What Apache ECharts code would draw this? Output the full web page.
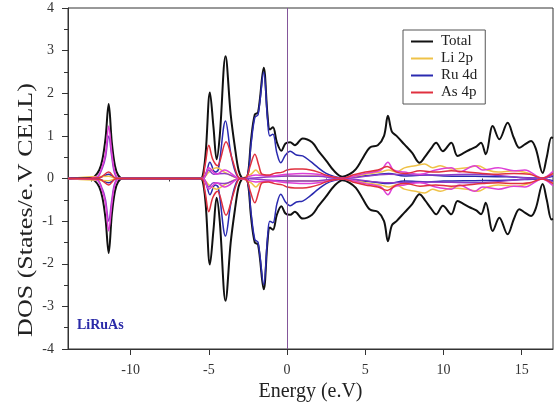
<!DOCTYPE html>
<html>
<head>
<meta charset="utf-8">
<script src="https://cdn.jsdelivr.net/npm/echarts@6/dist/echarts.min.js"></script>
<style>
  html, body { margin: 0; padding: 0; background: #fff; }
  #chart { width: 555px; height: 405px; }
</style>
</head>
<body>
<div id="chart"></div>
<script>
// Spin-resolved density of states of LiRuAs (spin-up drawn positive, spin-down mirrored below zero)

// Total DOS
const totalE  = [-14, -12.6, -12.3, -12.0, -11.8, -11.6, -11.4, -11.2, -11.0, -10.8, -10.5,
  -5.6, -5.4, -5.2, -4.93, -4.7, -4.5, -4.3, -3.93, -3.6, -3.3, -3.1, -2.9, -2.7, -2.5, -2.3, -2.06, -1.85, -1.49, -1.25, -1.1, -0.9, -0.65, -0.36, -0.1,
  0.2, 0.5, 1.0, 1.6, 2.0, 2.5, 3.0, 3.55, 4.0, 4.4, 4.8, 5.3, 5.8, 6.2, 6.45, 6.7, 7.0, 7.5, 8.0, 8.47, 8.8, 9.2, 9.53, 9.96, 10.5, 10.9, 11.3, 11.7, 12.1, 12.4, 12.7, 13.15, 13.57, 14.1, 14.5, 14.85, 15.2, 15.6, 15.9, 16.34, 16.6, 16.9, 17];
const totalUp = [0, 0, 0.05, 0.2, 0.45, 0.95, 1.75, 0.85, 0.3, 0.08, 0,
  0, 0.05, 0.6, 2.02, 1.2, 0.45, 1.0, 2.87, 1.5, 0.65, 0.2, 0.02, 0, 0.1, 0.9, 1.5, 1.55, 2.6, 1.5, 1.15, 1.2, 0.85, 0.65, 0.82,
  0.85, 0.78, 0.94, 0.85, 0.65, 0.42, 0.18, 0.04, 0.1, 0.22, 0.45, 0.73, 0.78, 1.0, 1.47, 1.1, 1.0, 0.8, 0.6, 0.37, 0.5, 0.7, 0.84, 0.64, 0.84, 0.53, 0.6, 0.68, 0.75, 0.84, 0.57, 1.23, 0.92, 1.31, 0.95, 0.72, 0.8, 0.88, 0.7, 0.13, 0.5, 0.96, 0.95];

// Ru 4d
const ruE  = [-14, -12.0, -11.4, -10.9, -5.4, -5.15, -4.93, -4.6, -4.4, -3.93, -3.6, -3.3, -3.0, -2.55, -2.3, -2.06, -1.85, -1.49, -1.25, -1.1, -0.9, -0.65, -0.4, -0.1,
  0.2, 0.6, 1.0, 1.5, 2.0, 2.5, 3.0, 3.5, 4.5, 5.5, 6.5, 7.5, 9, 10, 12, 14, 16.3, 17];
const ruUp = [0, 0.02, 0.1, 0, 0, 0.15, 0.38, 0.15, 0.2, 1.35, 0.6, 0.15, 0, 0.05, 0.8, 1.43, 1.5, 2.49, 1.4, 1.0, 1.04, 0.6, 0.37, 0.55,
  0.64, 0.55, 0.53, 0.4, 0.25, 0.12, 0.05, 0.02, 0.05, 0.08, 0.12, 0.06, 0.08, 0.06, 0.05, 0.04, 0.01, 0.05];

// Li 2p
const liE  = [-14, -11.4, -10.9, -5.4, -5.0, -4.5, -4.0, -3.0, -2.3, -2.0, -1.7, -1.0, 0, 2, 3.5, 5, 6, 6.5, 7, 7.5, 8.2, 8.8, 9.3, 9.8, 10.5, 11.5, 12.2, 12.8, 13.5, 14.5, 15.5, 16.3, 17];
const liUp = [0, 0.05, 0, 0, 0.15, 0.25, 0.15, 0, 0.1, 0.2, 0.1, 0.05, 0.05, 0.06, 0.01, 0.1, 0.15, 0.2, 0.15, 0.25, 0.3, 0.34, 0.25, 0.3, 0.22, 0.25, 0.3, 0.2, 0.15, 0.18, 0.12, 0.01, 0.1];

// As 4p
const asE  = [-14, -12.0, -11.4, -10.9, -5.5, -5.25, -5.0, -4.75, -4.45, -3.9, -3.5, -3.2, -3.0, -2.6, -2.35, -2.06, -1.8, -1.6, -1.2, -0.8, -0.3, 0,
  0.5, 1.0, 1.5, 2.0, 2.5, 3.0, 3.6, 4.2, 5.0, 5.8, 6.4, 7.0, 7.6, 8.5, 9.5, 10.5, 11.5, 12.5, 13.5, 14.5, 15.5, 16.3, 17];
const asUp = [0, 0.02, 0.15, 0, 0, 0.3, 0.78, 0.45, 0.3, 0.86, 0.45, 0.1, 0, 0.03, 0.3, 0.57, 0.3, 0.1, 0.08, 0.12, 0.15, 0.2,
  0.22, 0.22, 0.2, 0.15, 0.08, 0.03, 0.01, 0.08, 0.15, 0.2, 0.28, 0.15, 0.12, 0.18, 0.15, 0.18, 0.15, 0.12, 0.1, 0.12, 0.1, 0.01, 0.12];

// Remaining s-like projections (drawn, not listed in the legend)
const sE  = [-14, -12.2, -11.8, -11.6, -11.4, -11.2, -11.0, -10.7, -5.4, -5.0, -4.5, -4.0, -3.0, -2.0, -1.0, 0, 1, 2, 3.5, 5, 6, 6.45, 6.8, 7.5, 8.5, 9.5, 10.5, 11, 12, 12.5, 13.5, 14.5, 15.2, 16.3, 17];
const sUp = [0, 0.03, 0.3, 0.6, 1.23, 0.6, 0.15, 0, 0, 0.25, 0.1, 0.2, 0, 0.08, 0.06, 0.1, 0.12, 0.1, 0.01, 0.12, 0.2, 0.38, 0.2, 0.15, 0.1, 0.2, 0.25, 0.15, 0.3, 0.2, 0.25, 0.18, 0.2, 0.01, 0.17];

const s2E  = [-14, -12.2, -11.8, -11.6, -11.4, -11.2, -11.0, -10.7, -5.4, -5.0, -4.7, -4.0, -3.0, -1.0, 0, 2, 3.5, 6.5, 9, 12, 16.3, 17];
const s2Up = [0, 0.02, 0.25, 0.5, 1.0, 0.5, 0.1, 0, 0, 0.2, 0.1, 0.12, 0, 0.04, 0.06, 0.05, 0, 0.1, 0.08, 0.1, 0, 0.08];

const xMajor = [-10, -5, 0, 5, 10, 15];
const xMinor = [-12.5, -7.5, -2.5, 2.5, 7.5, 12.5];

const SERIF = '"Liberation Serif", "DejaVu Serif", serif';

function pairs(xs, ys, sign) {
  return xs.map((x, i) => [x, sign * ys[i]]);
}

function curve(name, xs, ys, color, width, sign) {
  return {
    name: name,
    type: 'line',
    data: pairs(xs, ys, sign),
    smooth: 0.35,
    showSymbol: false,
    symbol: 'none',
    lineStyle: { color: color, width: width },
    itemStyle: { color: color },
    silent: true,
    z: 2
  };
}

const C_TOTAL = '#111111';
const C_LI = '#efc248';
const C_RU = '#2a2ab0';
const C_AS = '#e0303f';
const C_S1 = '#de3fd6';
const C_S2 = '#8d3cc8';

const series = [];
[1, -1].forEach(sign => {
  series.push(curve('Total', totalE, totalUp, C_TOTAL, 2, sign));
  series.push(curve('Ru 4d', ruE, ruUp, C_RU, 1.5, sign));
  series.push(curve('Li 2p', liE, liUp, C_LI, 1.5, sign));
  series.push(curve('s2', s2E, s2Up, C_S2, 1.5, sign));
  series.push(curve('s1', sE, sUp, C_S1, 1.5, sign));
  series.push(curve('As 4p', asE, asUp, C_AS, 1.5, sign));
});

// Fermi level marker
series[0].markLine = {
  silent: true,
  symbol: ['none', 'none'],
  label: { show: false },
  lineStyle: { color: '#84569a', width: 1, type: 'solid' },
  data: [{ xAxis: 0 }]
};

const chart = echarts.init(document.getElementById('chart'), null, { renderer: 'canvas' });
chart.setOption({
  animation: false,
  backgroundColor: '#ffffff',
  grid: {
    left: 68, right: 2, top: 8, bottom: 56,
    outerBoundsMode: 'none',
    show: true, borderColor: '#333', borderWidth: 1, backgroundColor: 'transparent'
  },
  legend: {
    data: ['Total', 'Li 2p', 'Ru 4d', 'As 4p'],
    orient: 'vertical',
    left: 403,
    top: 30,
    padding: [4, 8, 4, 8],
    itemGap: 2,
    itemWidth: 22,
    itemHeight: 2,
    icon: 'rect',
    borderColor: '#555',
    borderWidth: 1,
    backgroundColor: '#fff',
    textStyle: { fontFamily: SERIF, fontSize: 15, color: '#222', padding: [0, 0, 0, 3] }
  },
  xAxis: [{
    type: 'value',
    min: -14,
    max: 17,
    name: 'Energy (e.V)',
    nameLocation: 'middle',
    nameGap: 32,
    nameTextStyle: { fontFamily: SERIF, fontSize: 20, color: '#222' },
    axisLine: { show: true, onZero: false, lineStyle: { color: '#333', width: 1 } },
    axisTick: { show: true, inside: false, length: 6, customValues: xMajor, lineStyle: { color: '#333' } },
    axisLabel: { customValues: xMajor, fontFamily: SERIF, fontSize: 14, color: '#333', margin: 14 },
    splitLine: { show: false }
  }, {
    type: 'value',
    min: -14,
    max: 17,
    position: 'bottom',
    axisLine: { show: false },
    axisTick: { show: true, inside: false, length: 3, customValues: xMinor, lineStyle: { color: '#333' } },
    axisLabel: { show: false },
    splitLine: { show: false }
  }],
  yAxis: {
    type: 'value',
    min: -4,
    max: 4,
    interval: 1,
    axisLine: { show: true, onZero: false, lineStyle: { color: '#333', width: 1 } },
    axisTick: { show: true, inside: false, length: 6, lineStyle: { color: '#333' } },
    minorTick: { show: true, splitNumber: 2, length: 4, lineStyle: { color: '#333' } },
    axisLabel: { fontFamily: SERIF, fontSize: 14, color: '#333', margin: 14 },
    splitLine: { show: false }
  },
  graphic: [{
    type: 'text',
    x: 26,
    y: 210,
    rotation: Math.PI / 2,
    scaleX: 1.24,
    scaleY: 1,
    silent: true,
    style: {
      text: 'DOS (States/e.V CELL)',
      font: '21px ' + SERIF,
      fill: '#222',
      textAlign: 'center',
      textVerticalAlign: 'middle'
    }
  }, {
    type: 'text',
    x: 77,
    y: 325,
    silent: true,
    style: {
      text: 'LiRuAs',
      font: 'bold 14px ' + SERIF,
      fill: '#2a2aa8',
      textAlign: 'left',
      textVerticalAlign: 'middle'
    }
  }],
  series: series
});
</script>
</body>
</html>
